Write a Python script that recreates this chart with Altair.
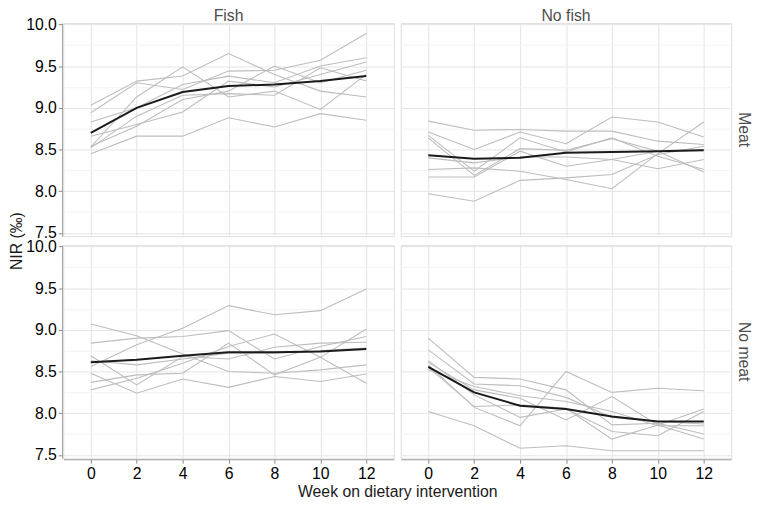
import altair as alt
import pandas as pd

weeks = [0, 2, 4, 6, 8, 10, 12]
fish_levels = ["Fish", "No fish"]
meat_levels = ["Meat", "No meat"]

# Fish / Meat
fish_meat = [
    [8.45, 8.66, 8.66, 8.88, 8.77, 8.93, 8.85],
    [9.03, 9.32, 9.38, 9.65, 9.40, 9.20, 9.13],
    [8.53, 9.13, 9.49, 9.13, 9.20, 8.98, 9.40],
    [8.94, 9.30, 9.22, 9.44, 9.45, 9.57, 9.89],
    [8.83, 9.00, 9.28, 9.38, 9.30, 9.50, 9.60],
    [8.66, 8.80, 8.95, 9.32, 9.25, 9.40, 9.55],
    [8.54, 8.78, 9.10, 9.20, 9.50, 9.30, 9.45],
    [8.52, 8.90, 9.15, 9.17, 9.15, 9.48, 9.32],
]
fish_meat_mean = [8.70, 9.00, 9.19, 9.26, 9.28, 9.32, 9.38]

# No fish / Meat
nofish_meat = [
    [8.84, 8.73, 8.74, 8.72, 8.72, 8.60, 8.56],
    [8.71, 8.50, 8.71, 8.57, 8.89, 8.83, 8.65],
    [8.67, 8.24, 8.64, 8.47, 8.64, 8.42, 8.26],
    [8.64, 8.19, 8.51, 8.49, 8.63, 8.48, 8.23],
    [8.40, 8.34, 8.41, 8.41, 8.38, 8.27, 8.38],
    [8.17, 8.17, 8.48, 8.30, 8.38, 8.48, 8.50],
    [8.26, 8.28, 8.24, 8.14, 8.03, 8.45, 8.83],
    [7.97, 7.88, 8.13, 8.16, 8.20, 8.44, 8.54],
]
nofish_meat_mean = [8.43, 8.39, 8.40, 8.46, 8.47, 8.48, 8.49]

# Fish / No meat
fish_nomeat = [
    [8.56, 8.82, 9.02, 9.29, 9.18, 9.23, 9.49],
    [9.07, 8.93, 8.71, 8.50, 8.48, 8.52, 8.58],
    [8.84, 8.90, 8.92, 8.99, 8.65, 8.80, 8.92],
    [8.48, 8.24, 8.41, 8.31, 8.44, 8.38, 8.47],
    [8.37, 8.46, 8.48, 8.84, 8.46, 8.67, 9.01],
    [8.28, 8.42, 8.60, 8.80, 8.95, 8.67, 8.36],
    [8.69, 8.34, 8.68, 8.65, 8.79, 8.84, 8.85],
    [8.63, 8.58, 8.65, 8.72, 8.72, 8.75, 8.78],
]
fish_nomeat_mean = [8.61, 8.64, 8.69, 8.73, 8.73, 8.74, 8.77]

# No fish / No meat
nofish_nomeat = [
    [8.02, 7.85, 7.58, 7.61, 7.55, 7.55, 7.55],
    [8.90, 8.43, 8.41, 8.28, 7.86, 7.88, 7.75],
    [8.76, 8.35, 8.33, 8.19, 7.95, 7.90, 7.87],
    [8.58, 8.07, 7.85, 8.50, 8.25, 8.30, 8.27],
    [8.61, 8.28, 8.18, 7.92, 8.20, 7.86, 7.69],
    [8.63, 8.22, 7.95, 8.05, 7.78, 7.73, 8.02],
    [8.55, 8.08, 8.10, 8.06, 7.69, 7.86, 8.05],
    [8.52, 8.32, 8.21, 8.14, 8.02, 7.85, 7.85],
]
nofish_nomeat_mean = [8.555, 8.25, 8.09, 8.05, 7.96, 7.90, 7.90]

y_ticks = [7.5, 7.75, 8.0, 8.25, 8.5, 8.75, 9.0, 9.25, 9.5, 9.75, 10.0]

panels = [
    ("Fish", "Meat", fish_meat, fish_meat_mean),
    ("No fish", "Meat", nofish_meat, nofish_meat_mean),
    ("Fish", "No meat", fish_nomeat, fish_nomeat_mean),
    ("No fish", "No meat", nofish_nomeat, nofish_nomeat_mean),
]

rows = []
for fish, meat, series, mean in panels:
    for i, s in enumerate(series):
        for w, v in zip(weeks, s):
            rows.append(dict(fish=fish, meat=meat, id=f"{fish}-{meat}-{i}",
                             week=w, nir=v, kind="subject"))
    for w, v in zip(weeks, mean):
        rows.append(dict(fish=fish, meat=meat, id=f"{fish}-{meat}-mean",
                         week=w, nir=v, kind="mean"))
df = pd.DataFrame(rows)

FONT = "Liberation Sans"
major = "datum.value % 0.5 == 0"

x_enc = alt.X(
    "week:Q",
    scale=alt.Scale(domain=[-1.2, 13.2], nice=False, zero=False),
    axis=alt.Axis(values=weeks, title=None,
                  labelFontSize=16, tickSize=4,
                  labelPadding=2, gridColor="#e4e4e4"),
)
y_enc = alt.Y(
    "nir:Q",
    scale=alt.Scale(domain=[7.46, 10.015], nice=False, zero=False),
    axis=alt.Axis(
        values=y_ticks, title=None,
        labelExpr="datum.value % 0.5 == 0 ? format(datum.value, '.1f') : ''",
        gridColor=alt.condition(major, alt.value("#e4e4e4"), alt.value("#f3f3f3")),
        tickOpacity=alt.condition(major, alt.value(1), alt.value(0)),
        labelFontSize=16, tickSize=4, labelPadding=2, labelOverlap=False,
    ),
)

gray = alt.Chart().mark_line(color="#bdbdbd", strokeWidth=1.1).encode(
    x=x_enc, y=y_enc, detail="id:N"
).transform_filter(alt.datum.kind == "subject")

black = alt.Chart().mark_line(color="#1a1a1a", strokeWidth=2).encode(
    x=x_enc, y=y_enc, detail="id:N"
).transform_filter(alt.datum.kind == "mean")

chart = alt.layer(gray, black, data=df).properties(
    width=335, height=216
).facet(
    column=alt.Column("fish:N", sort=fish_levels,
                      header=alt.Header(title="Week on dietary intervention",
                                        titleOrient="bottom", labelOrient="top",
                                        titleFontSize=16, titleFont=FONT,
                                        titleFontWeight="normal", titleColor="#1a1a1a",
                                        titlePadding=-7,
                                        labelFontSize=16, labelColor="#4d4d4d",
                                        labelPadding=-2, labelFont=FONT)),
    row=alt.Row("meat:N", sort=meat_levels,
                header=alt.Header(title="NIR (‰)",
                                  titleOrient="left", labelOrient="right",
                                  titleFontSize=16, titleFont=FONT,
                                  titleFontWeight="normal", titleColor="#1a1a1a",
                                  titlePadding=-10,
                                  labelFontSize=16, labelColor="#4d4d4d",
                                  labelAngle=90, labelAlign="center",
                                  labelPadding=4, labelFont=FONT)),
    spacing={"row": 7, "column": 5},
).properties(
    padding={"left": 0, "top": -3, "right": 0, "bottom": 0}
).configure_view(
    stroke="#999999", strokeWidth=1
).configure_axis(
    domain=False, tickColor="#b0b0b0", labelColor="#4d4d4d",
    labelFont=FONT
).configure(background="white")

chart.save("out.html", embed_options={"renderer": "svg", "actions": False})
